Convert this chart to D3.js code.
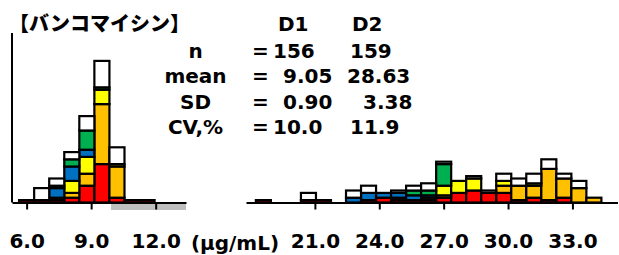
<!DOCTYPE html>
<html><head><meta charset="utf-8">
<script src="https://cdn.jsdelivr.net/npm/d3@7"></script>
<style>
html,body{margin:0;padding:0;background:#fff;}
svg{display:block;}
text{font-family:"DejaVu Sans",Verdana,sans-serif;font-weight:bold;fill:#000;}
</style></head><body>
<svg id="chart" width="619" height="255"></svg>
<script>
// ---------- DATA ----------
const title = "【バンコマイシン】";
const unitLabel = "(µg/mL)";
const seriesKeys = ["red","orange","yellow","blue","green","white"];
const seriesColors = ["#FF0000","#FFC000","#FFFF00","#0070C0","#00B050","#FFFFFF"];

// D1 (left panel) bin centres, width 0.7
const leftBins   = [6.0,6.7,7.4,8.1,8.8,9.5,10.2,10.9,11.6];
const leftRed    = [1,1,1,2,7,16,2,1,1];
const leftOrange = [0,0,1,2,5,25,13,0,0];
const leftYellow = [0,0,0,5,7,6,1,0,0];
const leftBlue   = [0,0,4,6,3,0,0,0,0];
const leftGreen  = [0,0,1,3,8,1,0,0,0];
const leftWhite  = [0,5,3,3,6,11,7,0,0];

// D2 (right panel) bin centres
const rightBins   = [18.6,19.3,20.0,20.7,21.4,22.1,22.8,23.5,24.2,24.9,25.6,26.3,27.0,27.7,28.4,29.1,29.8,30.5,31.2,31.9,32.6,33.3,34.0];
const rightRed    = [1,0,0,1,1,0,0,1,2,1,1,1,2,4,5,4,4,1,2,1,2,0,0];
const rightOrange = [0,0,0,0,0,0,0,0,0,1,0,1,1,0,0,0,3,6,5,13,8,6,2];
const rightYellow = [0,0,0,0,0,0,0,0,0,0,0,0,4,5,5,0,2,0,1,0,0,0,0];
const rightBlue   = [0,0,0,0,0,0,2,3,2,2,2,1,0,0,0,0,0,0,0,0,0,0,0];
const rightGreen  = [0,0,0,0,0,0,0,0,0,0,2,2,9,0,0,0,0,0,0,0,0,0,0];
const rightWhite  = [0,0,0,3,0,0,3,3,0,1,2,3,1,0,1,1,3,3,4,4,2,3,0];

const binWidth = 0.7;
const leftTicks  = [6.0, 9.0, 12.0];
const rightTicks = [21.0, 24.0, 27.0, 30.0, 33.0];
const grayRange  = [9.92, 13.41];

const statHeaders = ["D1","D2"];
const statLabels  = ["n","mean","SD","CV,%"];
const d1Stats     = ["156","9.05","0.90","10.0"];
const d2Stats     = ["159","28.63","3.38","11.9"];

// ---------- DRAW ----------
const svg = d3.select("#chart");
const baseY = 202.5;
const y = d3.scaleLinear().domain([0,70]).range([baseY, baseY - 70*2.4]);

const xL = d3.scaleLinear().domain([5.32, 13.41]).range([12, 186]);
const xR = d3.scaleLinear().domain([17.79, 35.1]).range([246, 617.5]);

function rows(bins, arrs){
  return bins.map((b,i)=>{
    const o={bin:b};
    seriesKeys.forEach((k,j)=>o[k]=arrs[j][i]);
    return o;
  });
}
const stack = d3.stack().keys(seriesKeys);
const color = d3.scaleOrdinal().domain(seriesKeys).range(seriesColors);

function drawBars(data, x){
  const st = stack(data);
  const g = svg.append("g");
  st.forEach(layer=>{
    g.selectAll(null).data(layer.filter(d=>d[1]-d[0]>0)).enter().append("rect")
      .attr("x", d=>x(d.data.bin - binWidth/2))
      .attr("width", d=>x(d.data.bin + binWidth/2) - x(d.data.bin - binWidth/2))
      .attr("y", d=>y(d[1]))
      .attr("height", d=>y(d[0]) - y(d[1]))
      .attr("fill", color(layer.key))
      .attr("stroke", "#000")
      .attr("stroke-width", 2.2);
  });
}

// gray band under left axis
svg.append("rect")
  .attr("x", xL(grayRange[0])).attr("width", xL(grayRange[1]) - xL(grayRange[0]))
  .attr("y", baseY + 1.5).attr("height", 6).attr("fill", "#BFBFBF");

drawBars(rows(leftBins,[leftRed,leftOrange,leftYellow,leftBlue,leftGreen,leftWhite]), xL);
drawBars(rows(rightBins,[rightRed,rightOrange,rightYellow,rightBlue,rightGreen,rightWhite]), xR);

function styleAxis(g){
  g.selectAll("path.domain").attr("stroke","#000").attr("stroke-width",2);
  g.selectAll(".tick line").attr("stroke","#000").attr("stroke-width",2);
  g.selectAll(".tick text").style("font-family",'"DejaVu Sans",Verdana,sans-serif')
   .style("font-weight","bold").style("font-size","20px").attr("fill","#000");
}
const axL = svg.append("g").attr("transform",`translate(0,${baseY})`)
  .call(d3.axisBottom(xL).tickValues(leftTicks).tickFormat(d3.format(".1f")).tickSize(7).tickSizeOuter(0).tickPadding(24));
styleAxis(axL);
const axR = svg.append("g").attr("transform",`translate(0,${baseY})`)
  .call(d3.axisBottom(xR).tickValues(rightTicks).tickFormat(d3.format(".1f")).tickSize(7).tickSizeOuter(0).tickPadding(24));
styleAxis(axR);

// y axis line (left panel only)
const axY = svg.append("g").attr("transform","translate(12,0)")
  .call(d3.axisLeft(y).tickValues([]).tickSizeOuter(0));
axY.select("path.domain").attr("stroke","#000").attr("stroke-width",2)
  .attr("d", `M0,33V${baseY}`);

// unit label
svg.append("text").attr("x",235).attr("y",250).attr("text-anchor","middle")
  .style("font-size","20px").text(unitLabel);

// title
svg.append("text").attr("x",9).attr("y",31)
  .style("font-family",'"Noto Sans CJK JP",sans-serif').style("font-size","20px").style("font-weight","900").text(title);

// stats
const rowY = [57.5, 83, 108.5, 134];
const hdrX = [278, 352];
statHeaders.forEach((h,i)=>svg.append("text").attr("x",hdrX[i]).attr("y",31).style("font-size","20px").text(h));
const d1X = [273, 283, 283, 273];
const d2X = [350, 347, 363, 350];
statLabels.forEach((l,i)=>{
  svg.append("text").attr("x",195.5).attr("y",rowY[i]).attr("text-anchor","middle").style("font-size","20px").text(l);
  svg.append("text").attr("x",252).attr("y",rowY[i]).style("font-size","20px").text("=");
  svg.append("text").attr("x",d1X[i]).attr("y",rowY[i]).style("font-size","20px").text(d1Stats[i]);
  svg.append("text").attr("x",d2X[i]).attr("y",rowY[i]).style("font-size","20px").text(d2Stats[i]);
});
</script>
</body></html>
